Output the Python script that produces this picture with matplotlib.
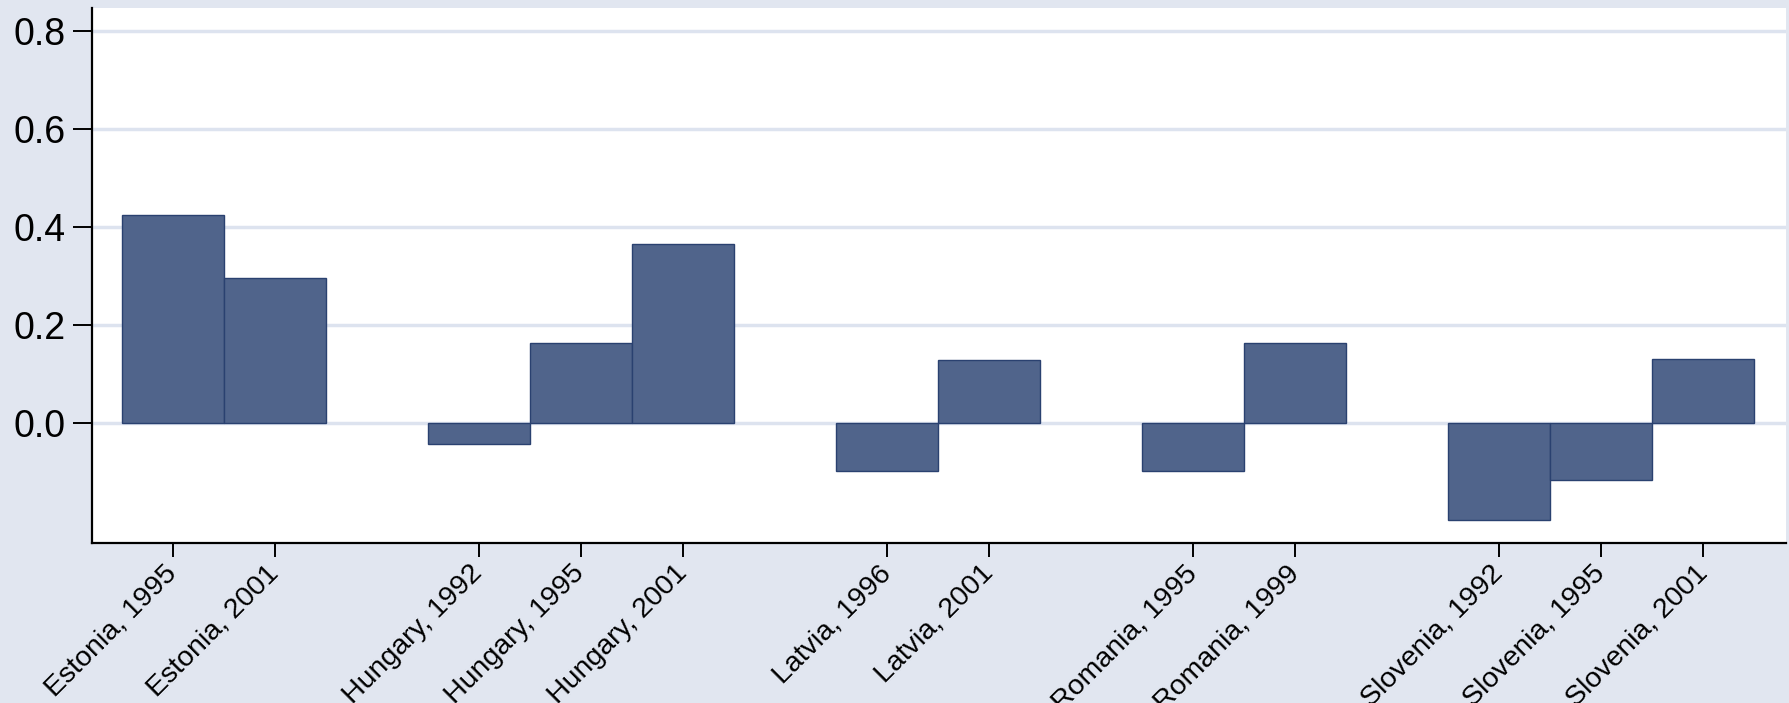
import numpy as np
import matplotlib.pyplot as plt

plt.rcParams['font.family'] = ['Liberation Sans', 'DejaVu Sans']

# Values per country-year
labels = ["Estonia, 1995", "Estonia, 2001",
          "Hungary, 1992", "Hungary, 1995", "Hungary, 2001",
          "Latvia, 1996", "Latvia, 2001",
          "Romania, 1995", "Romania, 1999",
          "Slovenia, 1992", "Slovenia, 1995", "Slovenia, 2001"]
values = [0.425, 0.295,
          -0.043, 0.164, 0.365,
          -0.099, 0.129,
          -0.099, 0.164,
          -0.199, -0.116, 0.131]
group_sizes = [2, 3, 2, 2, 3]

# bar positions: one unit per bar, one empty slot between countries
pos = []
x = 0
for n in group_sizes:
    pos.extend(range(x, x + n))
    x += n + 1
pos = np.array(pos)

bg = "#e1e6f0"
fig = plt.figure(figsize=(17.9, 7.03), dpi=100, facecolor=bg)
ax = fig.add_axes([92 / 1790, 1 - 543 / 703, (1786 - 92) / 1790, (543 - 8) / 703])
ax.set_facecolor("white")

ax.bar(pos, values, width=1.0, color="#50648b", edgecolor="#2a4170", linewidth=1.0, zorder=3)

ax.set_xlim(-0.79, 15.81)
ax.set_ylim(-0.245, 0.847)
ax.set_yticks([0.0, 0.2, 0.4, 0.6, 0.8])
ax.set_yticklabels(["0.0", "0.2", "0.4", "0.6", "0.8"])
ax.yaxis.grid(True, color="#dde3ef", linewidth=2.5, zorder=1)
ax.set_axisbelow(True)

ax.set_xticks(pos)
ax.set_xticklabels(labels, rotation=45, ha="right", va="center",
                   rotation_mode="anchor", fontsize=20.5)
ax.tick_params(axis="y", labelsize=27, length=14, width=1.4, pad=5)
ax.tick_params(axis="x", length=10, width=1.4, pad=9)

for s in ["top", "right"]:
    ax.spines[s].set_visible(False)
for s in ["left", "bottom"]:
    ax.spines[s].set_linewidth(1.6)
    ax.spines[s].set_color("black")

fig.savefig("out.png", dpi=100, facecolor=bg)
